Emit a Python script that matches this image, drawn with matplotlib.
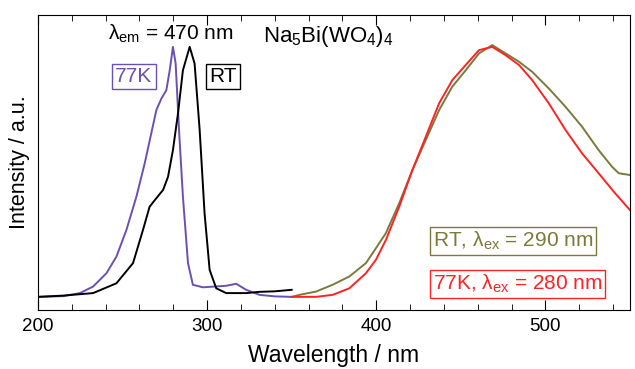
import matplotlib
matplotlib.use('Agg')
import matplotlib.pyplot as plt
from matplotlib.ticker import MultipleLocator

plt.rcParams['font.family'] = ['Liberation Sans', 'DejaVu Sans']
plt.rcParams['mathtext.fontset'] = 'custom'
plt.rcParams['mathtext.rm'] = 'Liberation Sans'
plt.rcParams['mathtext.it'] = 'Liberation Sans:italic'

# excitation spectra (lambda_em = 470 nm), normalised
ex77_wl = [200, 215, 224.8, 232.6, 240.5, 246.4, 252.3, 258.2, 263.1, 267, 270,
           273, 275.9, 277.9, 279.8, 281.4, 283.4, 285.7, 288.7, 291.6, 297.5,
           311.3, 317.2, 323.1, 331, 340, 350]
ex77_int = [0, 0.003, 0.015, 0.041, 0.094, 0.16, 0.266, 0.398, 0.53, 0.65, 0.742,
            0.788, 0.821, 0.90, 0.993, 0.927, 0.663, 0.398, 0.134, 0.048, 0.038,
            0.044, 0.052, 0.028, 0.008, 0.002, 0]

exrt_wl = [200, 215, 232.6, 246.4, 256.2, 262.1, 266, 270, 274, 276.9, 279.8,
           282.8, 285.7, 289.7, 292.6, 295.6, 298.5, 301.5, 305.4, 311.3, 323.1,
           331, 340, 350]
exrt_int = [0, 0.005, 0.015, 0.054, 0.134, 0.266, 0.358, 0.392, 0.425, 0.477, 0.583,
            0.729, 0.90, 0.993, 0.927, 0.663, 0.332, 0.107, 0.034, 0.015, 0.015,
            0.02, 0.022, 0.028]

# emission spectra, normalised
emrt_wl = [350, 354.6, 364.4, 374.2, 384.1, 393.9, 399.8, 405.7, 413.6, 421.4, 429.3,
           437.2, 445, 452.9, 460.8, 468.6, 476.5, 484.4, 492.2, 502, 511.9,
           521.7, 531.5, 539.4, 543.4, 550]
emrt_int = [0.0, 0.008, 0.021, 0.048, 0.081, 0.134, 0.193, 0.253, 0.372, 0.504, 0.623,
            0.742, 0.835, 0.90, 0.967, 1.0, 0.967, 0.934, 0.894, 0.828, 0.755,
            0.676, 0.583, 0.517, 0.491, 0.484]

em77_wl = [350, 364.4, 374.2, 384.1, 393.9, 399.8, 405.7, 413.6, 421.4, 429.3, 437.2,
           445, 452.9, 460.8, 468.6, 476.5, 484.4, 492.2, 502, 511.9, 521.7,
           531.5, 541.3, 550]
em77_int = [0, 0, 0.008, 0.034, 0.094, 0.147, 0.226, 0.358, 0.504, 0.636, 0.769,
            0.861, 0.921, 0.980, 0.993, 0.960, 0.921, 0.861, 0.769, 0.663, 0.570,
            0.491, 0.411, 0.345]

purple = '#6a50b4'
olive = '#7a7a3c'
red = '#ff2222'

fig = plt.figure(figsize=(6.35, 3.69), dpi=100)
ax = fig.add_axes([0.0598, 0.160, 0.9322, 0.799])

ax.plot(ex77_wl, ex77_int, color=purple, lw=1.4)
ax.plot(exrt_wl, exrt_int, color='black', lw=1.4)
ax.plot(emrt_wl, emrt_int, color=olive, lw=1.4)
ax.plot(em77_wl, em77_int, color=red, lw=1.4)

ax.set_xlim(200, 550)
ax.set_ylim(-0.052, 1.119)
ax.xaxis.set_major_locator(MultipleLocator(100))
ax.xaxis.set_minor_locator(MultipleLocator(20))
ax.tick_params(axis='x', which='both', direction='in', top=True, labelsize=13.5, pad=6)
ax.tick_params(axis='x', which='major', length=7)
ax.tick_params(axis='x', which='minor', length=4)
ax.set_yticks([])
ax.set_xlabel('Wavelength / nm', fontsize=16.5, labelpad=6)
ax.set_ylabel('Intensity / a.u.', fontsize=15.5, labelpad=6)

tr = ax.transAxes
ax.text(0.118, 0.915, r'λ$_{\mathrm{em}}$ = 470 nm', transform=tr,
        fontsize=15, ha='left', va='baseline')
ax.text(0.380, 0.908, r'Na$_5$Bi(WO$_4$)$_4$', transform=tr,
        fontsize=16, ha='left', va='baseline')
ax.text(0.162, 0.773, '77K', transform=tr, fontsize=15, color=purple,
        ha='center', va='baseline',
        bbox=dict(boxstyle='square,pad=0.15', fc='white', ec=purple, lw=1))
ax.text(0.313, 0.773, 'RT', transform=tr, fontsize=15, color='black',
        ha='center', va='baseline',
        bbox=dict(boxstyle='square,pad=0.15', fc='white', ec='black', lw=1))
ax.text(0.667, 0.214, r'RT, λ$_{\mathrm{ex}}$ = 290 nm', transform=tr,
        fontsize=15, color=olive, ha='left', va='baseline',
        bbox=dict(boxstyle='square,pad=0.15', fc='white', ec=olive, lw=1))
ax.text(0.667, 0.068, r'77K, λ$_{\mathrm{ex}}$ = 280 nm', transform=tr,
        fontsize=15, color=red, ha='left', va='baseline',
        bbox=dict(boxstyle='square,pad=0.15', fc='white', ec=red, lw=1))

fig.savefig('out.png', dpi=100)
